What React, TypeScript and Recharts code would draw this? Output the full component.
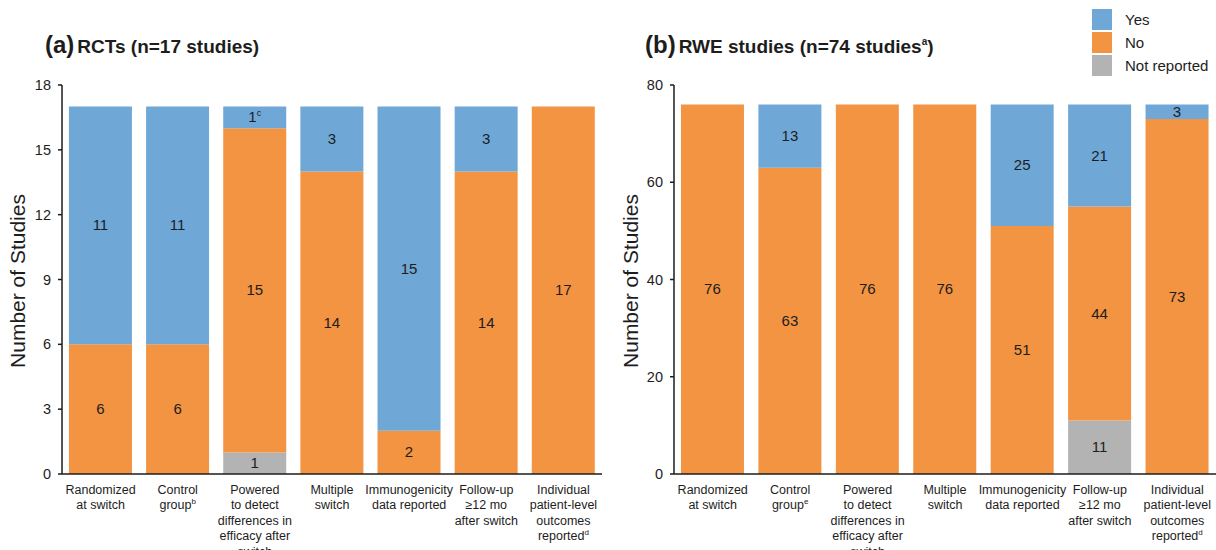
import { BarChart, Bar, XAxis, YAxis, LabelList, Legend } from "recharts";

const FONT = "'Liberation Sans', Arial, Helvetica, sans-serif";
const INK = "#1d1d1d";
const YES_COLOR = "#6fa8d7";
const NO_COLOR = "#f29441";
const NR_COLOR = "#b3b3b3";

// category labels, one line per "\n"; footnote letters go on the last line
const categories = [
  "Randomized\nat switch",
  "Control\ngroup",
  "Powered\nto detect\ndifferences in\nefficacy after\nswitch",
  "Multiple\nswitch",
  "Immunogenicity\ndata reported",
  "Follow-up\n≥12 mo\nafter switch",
  "Individual\npatient-level\noutcomes\nreported",
];
const rctCategoryNotes = ["", "b", "", "", "", "", "d"];
const rweCategoryNotes = ["", "e", "", "", "", "", "d"];

// (a) RCTs
const rctYes = [11, 11, 1, 3, 15, 3, 0];
const rctNo = [6, 6, 15, 14, 2, 14, 17];
const rctNotReported = [0, 0, 1, 0, 0, 0, 0];
const rctYesNotes = ["", "", "c", "", "", "", ""];
const rctTicks = [0, 3, 6, 9, 12, 15, 18];

// (b) RWE studies
const rweYes = [0, 13, 0, 0, 25, 21, 3];
const rweNo = [76, 63, 76, 76, 51, 44, 73];
const rweNotReported = [0, 0, 0, 0, 0, 11, 0];
const rweTicks = [0, 20, 40, 60, 80];

const seriesOrder = ["Yes", "No", "Not reported"];

const rctData = categories.map((name, i) => ({
  name,
  yes: rctYes[i],
  no: rctNo[i],
  nr: rctNotReported[i],
}));

const rweData = categories.map((name, i) => ({
  name,
  yes: rweYes[i],
  no: rweNo[i],
  nr: rweNotReported[i],
}));

const makeCategoryTick = (notes: string[]) => (props: any) => {
  const { x, y, payload } = props;
  const idx = payload.index;
  const lines = categories[idx].split("\n");
  return (
    <text x={x} y={y} textAnchor="middle" fontFamily={FONT} fontSize={12.5} fill={INK}>
      {lines.map((line, i) => (
        <tspan key={i} x={x} dy={i === 0 ? 19.5 : 15.5}>
          {line}
          {i === lines.length - 1 && notes[idx] ? (
            <tspan fontSize={8} dy={-5}>
              {notes[idx]}
            </tspan>
          ) : null}
        </tspan>
      ))}
    </text>
  );
};

const makeSegmentLabel = (notes?: string[]) => (props: any) => {
  const { x, y, width, height, value, index } = props;
  if (!value) return null;
  const note = notes && index != null ? notes[index] : "";
  return (
    <text
      x={Number(x) + Number(width) / 2}
      y={Number(y) + Number(height) / 2}
      dy={5}
      textAnchor="middle"
      fontFamily={FONT}
      fontSize={15}
      fill={INK}
    >
      {value}
      {note ? (
        <tspan fontSize={9} dy={-6}>
          {note}
        </tspan>
      ) : null}
    </text>
  );
};

const LegendBox = (props: any) => {
  const payload: any[] = props.payload || [];
  const items = seriesOrder
    .map((name) => payload.find((p) => p.value === name))
    .filter(Boolean);
  return (
    <div style={{ fontFamily: FONT, fontSize: 15, color: INK }}>
      {items.map((it: any) => (
        <div key={it.value} style={{ display: "flex", alignItems: "center", height: 23 }}>
          <span
            style={{ display: "inline-block", width: 20, height: 21, background: it.color, marginRight: 13 }}
          />
          {it.value}
        </div>
      ))}
    </div>
  );
};

const axisTick = { fontFamily: FONT, fontSize: 14.5, fill: INK };

function StackedPanel({
  data,
  ticks,
  notes,
  yesNotes,
  width,
  marginLeft,
  axisWidth,
  marginRight,
  withLegend,
}: any) {
  return (
    <BarChart
      width={width}
      height={550}
      data={data}
      margin={{ top: 85, right: marginRight, bottom: 16, left: marginLeft }}
      barCategoryGap="9%"
    >
      <XAxis
        dataKey="name"
        interval={0}
        tickLine={false}
        tickSize={0}
        tickMargin={0}
        height={60}
        axisLine={{ stroke: INK, strokeWidth: 1.5 }}
        tick={makeCategoryTick(notes)}
      />
      <YAxis
        width={axisWidth}
        domain={[ticks[0], ticks[ticks.length - 1]]}
        ticks={ticks}
        interval={0}
        tickSize={4}
        tickMargin={7}
        axisLine={{ stroke: INK, strokeWidth: 1.5 }}
        tickLine={{ stroke: INK, strokeWidth: 1.5 }}
        tick={axisTick}
      />
      {withLegend ? (
        <Legend
          layout="vertical"
          align="center"
          verticalAlign="middle"
          content={LegendBox}
          wrapperStyle={{ position: "absolute", left: 482, top: 8, width: 130, height: 70 }}
        />
      ) : null}
      <Bar dataKey="nr" name="Not reported" stackId="s" fill={NR_COLOR} isAnimationActive={false}>
        <LabelList dataKey="nr" content={makeSegmentLabel()} />
      </Bar>
      <Bar dataKey="no" name="No" stackId="s" fill={NO_COLOR} isAnimationActive={false}>
        <LabelList dataKey="no" content={makeSegmentLabel()} />
      </Bar>
      <Bar dataKey="yes" name="Yes" stackId="s" fill={YES_COLOR} isAnimationActive={false}>
        <LabelList dataKey="yes" content={makeSegmentLabel(yesNotes)} />
      </Bar>
    </BarChart>
  );
}

export default function App() {
  return (
    <div style={{ position: "absolute", left: 0, top: 0, width: 1216, height: 550, overflow: "hidden", background: "#fff" }}>
      <div style={{ position: "absolute", left: 0, top: 0 }}>
        <StackedPanel
          data={rctData}
          ticks={rctTicks}
          notes={rctCategoryNotes}
          yesNotes={rctYesNotes}
          width={610}
          marginLeft={22}
          axisWidth={40}
          marginRight={8}
        />
      </div>
      <div style={{ position: "absolute", left: 610, top: 0 }}>
        <StackedPanel
          data={rweData}
          ticks={rweTicks}
          notes={rweCategoryNotes}
          width={606}
          marginLeft={22}
          axisWidth={42}
          marginRight={0}
          withLegend
        />
      </div>
      <svg
        width={1216}
        height={550}
        style={{ position: "absolute", left: 0, top: 0, pointerEvents: "none" }}
        fontFamily={FONT}
        fill={INK}
      >
        <text x={45} y={53} fontWeight="bold">
          <tspan fontSize={24}>(a)</tspan>
          <tspan fontSize={19} dx={3}>RCTs (n=17 studies)</tspan>
        </text>
        <text x={645} y={53} fontWeight="bold">
          <tspan fontSize={24}>(b)</tspan>
          <tspan fontSize={19} dx={3}>RWE studies (n=74 studies</tspan>
          <tspan fontSize={10} dy={-8}>a</tspan>
          <tspan fontSize={19} dy={8}>)</tspan>
        </text>
        <text x={25} y={281} transform="rotate(-90 25 281)" textAnchor="middle" fontSize={21}>
          Number of Studies
        </text>
        <text x={638} y={281} transform="rotate(-90 638 281)" textAnchor="middle" fontSize={21}>
          Number of Studies
        </text>
      </svg>
    </div>
  );
}
